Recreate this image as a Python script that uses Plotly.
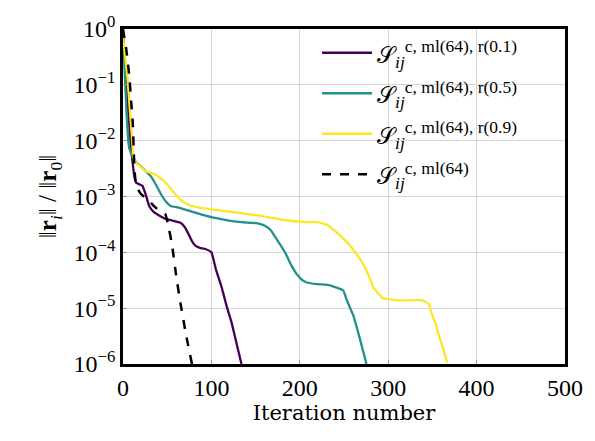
import plotly.graph_objects as go

# ---- data (x = iteration, y = log10 of relative residual) ----
r01_x = [0, 3, 6, 9, 11, 13, 14.7, 18, 22, 26, 29.6, 35, 40.8, 48, 55.6, 65, 70, 74.3, 78, 81.8, 87, 93, 100, 105, 111.5, 117, 122.7, 128, 134]
r01_e = [-0.1, -0.8, -1.5, -2.1, -2.41, -2.65, -2.75, -2.78, -2.81, -2.98, -3.17, -3.28, -3.34, -3.40, -3.43, -3.47, -3.55, -3.68, -3.80, -3.88, -3.92, -3.94, -4.0, -4.3, -4.62, -4.95, -5.25, -5.6, -6.0]

r05_x = [0, 2, 4, 6, 7.3, 11, 14.7, 22, 31.5, 37, 42.7, 48, 53.9, 63, 81.8, 100, 120, 134, 152.5, 160, 167, 172, 178.5, 184, 190, 197, 203, 208, 220, 234, 249, 253, 257, 260.5, 268, 275.4]
r05_e = [-0.1, -0.8, -1.5, -2.0, -2.15, -2.29, -2.38, -2.49, -2.64, -2.78, -2.95, -3.08, -3.17, -3.20, -3.29, -3.37, -3.43, -3.46, -3.48, -3.52, -3.60, -3.72, -3.88, -4.02, -4.22, -4.40, -4.50, -4.54, -4.57, -4.59, -4.68, -4.85, -5.0, -5.13, -5.55, -6.0]

r09_x = [0, 2.5, 5.4, 8, 10.2, 11.7, 15, 20, 26, 32, 37, 43, 50, 57, 65, 72, 78, 90, 100, 125, 152.5, 186, 208, 219.5, 231, 240, 249, 257, 265, 272, 278, 283, 289, 294, 301.5, 309, 320, 339, 346, 350, 354, 357, 362, 366.7]
r09_e = [-0.14, -0.5, -0.93, -1.5, -1.95, -2.29, -2.40, -2.47, -2.55, -2.58, -2.61, -2.68, -2.78, -2.92, -3.06, -3.13, -3.17, -3.21, -3.23, -3.28, -3.34, -3.43, -3.46, -3.46, -3.51, -3.62, -3.75, -3.88, -4.05, -4.22, -4.42, -4.62, -4.74, -4.82, -4.84, -4.86, -4.86, -4.86, -4.93, -5.13, -5.3, -5.47, -5.72, -5.98]

base_x = [0, 4, 7.3, 9, 11, 12.8, 14, 16.5, 20, 26, 32, 37, 43, 48, 51, 55.6, 60, 65, 71, 78]
base_e = [0, -0.4, -0.87, -1.25, -1.67, -2.46, -2.7, -2.86, -2.95, -3.03, -3.12, -3.20, -3.27, -3.32, -3.5, -3.88, -4.4, -4.91, -5.45, -6.0]

S = '<span style="font-size:23px">𝒮</span>'
names = [
    S + "<sub><i>ij</i></sub><sup>c, ml(64), r(0.1)</sup>",
    S + "<sub><i>ij</i></sub><sup>c, ml(64), r(0.5)</sup>",
    S + "<sub><i>ij</i></sub><sup>c, ml(64), r(0.9)</sup>",
    S + "<sub><i>ij</i></sub><sup>c, ml(64)</sup>",
]

y_tickvals = [1, 1e-1, 1e-2, 1e-3, 1e-4, 1e-5, 1e-6]
y_ticktext = ["10<sup>0</sup>", "10<sup>−1</sup>", "10<sup>−2</sup>", "10<sup>−3</sup>",
              "10<sup>−4</sup>", "10<sup>−5</sup>", "10<sup>−6</sup>"]
x_tickvals = [0, 100, 200, 300, 400, 500]

FONT = "Liberation Serif"
WIDE = "DejaVu Serif"

fig = go.Figure()
series = [
    (r01_x, r01_e, "#440154", "solid"),
    (r05_x, r05_e, "#21918c", "solid"),
    (r09_x, r09_e, "#fde725", "solid"),
    (base_x, base_e, "black", "dash"),
]
for i, ((xs, es, col, dash), nm) in enumerate(zip(series, names)):
    fig.add_trace(go.Scatter(
        x=xs, y=[10 ** e for e in es], mode="lines", name=nm, legendgroup=f"g{i}",
        line=dict(color=col, width=2.3 if dash == "solid" else 2.5, dash=dash,
                  shape="spline", smoothing=0.35),
    ))

axis_common = dict(
    showgrid=True, gridcolor="#d6d6d6", gridwidth=1,
    showline=True, linecolor="black", linewidth=2.5, mirror=True,
    ticks="inside", ticklen=4, tickcolor="#9a9a9a",
    tickfont=dict(family=FONT, size=24, color="black"),
    ticklabeloverflow="allow",
    zeroline=False,
)

fig.update_layout(
    width=595, height=441,
    margin=dict(l=123, r=24, t=12, b=77),
    paper_bgcolor="white", plot_bgcolor="white",
    font=dict(family=FONT, size=22, color="black"),
    xaxis=dict(range=[0, 500], tickvals=x_tickvals,
               title=dict(text="Iteration number", font=dict(family=WIDE, size=21), standoff=6),
               **axis_common),
    yaxis=dict(type="log", range=[-6, 0], tickvals=y_tickvals, ticktext=y_ticktext,
               title=dict(text="‖<b>r</b><sub><i>i</i></sub>‖ / ‖<b>r</b><sub>0</sub>‖",
                          font=dict(family=FONT, size=25), standoff=10),
               **axis_common),
    legend=dict(x=0.439, y=0.997, xanchor="left", yanchor="top",
                bgcolor="rgba(0,0,0,0)", borderwidth=0, itemwidth=50,
                font=dict(family=FONT, size=25), tracegroupgap=5),
    showlegend=True,
)

fig.write_html("out.html")
